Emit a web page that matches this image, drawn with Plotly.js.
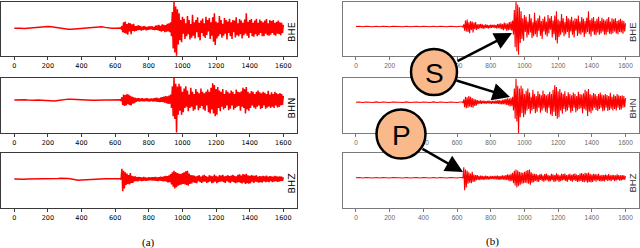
<!DOCTYPE html>
<html><head><meta charset="utf-8">
<script src="https://cdn.plot.ly/plotly-3.0.1.min.js"></script>
<style>html,body{margin:0;padding:0;background:#fff}#c{width:640px;height:248px}</style>
</head><body><div id="c"></div>
<script>
// sampling: pre-event part every 20 s from 0, post-event part every 5 s from 630
const PRE_START = 0, PRE_STEP = 20, POST_START = 630, POST_STEP = 5;

// raw (unfiltered) pre-event drift, panel (a)
const bhePreRaw = [0,0.01,0.0,-0.01,0.0,0.01,0.02,0.03,0.05,0.06,0.06,0.05,0.03,0.01,-0.01,-0.03,-0.04,-0.04,-0.03,-0.02,-0.01,0.0,0.02,0.04,0.05,0.06,0.05,0.03,0.01,0.0,0.0,0.01];
const bhnPreRaw = [0,0.01,0.02,0.01,0.0,-0.01,-0.01,0.0,-0.01,-0.02,-0.04,-0.05,-0.04,-0.02,0.0,0.02,0.03,0.03,0.02,0.02,0.01,0.0,0.0,-0.01,-0.01,0.0,-0.01,0.0,0.0,0.01,0.0,0.01];
const bhzPreRaw = [0,-0.01,-0.01,-0.01,0,0,0,0.01,0.01,0.01,0.01,0.02,0.02,0.02,0.03,0.03,0.02,0.0,-0.03,-0.05,-0.04,-0.03,-0.02,-0.01,0,0,0.01,0.01,0.01,0.01,0.0,0.0];
// filtered pre-event noise, panel (b)
const quietPre = [0,0.01,-0.01,0.01,0,-0.01,0.01,-0.01,0.01,0,-0.01,0.01,0,0.01,-0.01,0.01,-0.01,0,0.01,-0.01,0.01,0,-0.01,0.01,-0.01,0.01,0,-0.01,0.01,0,-0.01,0.01];

const bhePost = [
0.01,-0.02,0.08,-0.15,0.22,-0.18,0.25,-0.2,0.15,-0.24,
0.2,-0.12,0.18,-0.22,0.14,-0.1,0.16,-0.12,0.08,-0.1,
0.09,-0.07,0.1,-0.06,0.08,-0.09,0.06,-0.07,0.08,-0.05,
0.06,-0.08,0.05,-0.06,0.07,-0.05,0.06,-0.04,0.07,-0.06,
0.05,-0.07,0.09,-0.06,0.1,-0.08,0.12,-0.1,0.09,-0.13,
0.14,-0.1,0.12,-0.15,0.11,-0.13,0.16,-0.12,0.18,-0.15,
0.22,-0.3,0.6,-0.75,1.0,-0.9,0.8,-1.02,0.7,-0.6,
0.55,-0.45,0.3,-0.52,0.42,-0.2,0.35,-0.4,0.18,-0.3,
0.45,-0.22,0.3,-0.42,0.15,-0.35,0.5,-0.28,0.22,-0.38,
0.3,-0.15,0.4,-0.33,0.2,-0.45,0.28,-0.18,0.36,-0.3,
0.18,-0.36,0.42,-0.25,0.3,-0.12,0.38,-0.4,0.22,-0.28,
0.4,-0.5,0.55,-0.62,0.25,-0.38,0.2,-0.3,0.45,-0.22,
0.3,-0.35,0.16,-0.28,0.38,-0.2,0.3,-0.42,0.25,-0.18,
0.35,-0.3,0.22,-0.4,0.3,-0.15,0.28,-0.34,0.4,-0.26,
0.18,-0.3,0.34,-0.22,0.28,-0.38,0.2,-0.26,0.32,-0.2,
0.55,-0.28,0.24,-0.36,0.3,-0.18,0.34,-0.3,0.2,-0.32,
0.28,-0.22,0.35,-0.3,0.2,-0.25,0.32,-0.18,0.26,-0.3,
0.22,-0.3,0.28,-0.2,0.34,-0.26,0.18,-0.28,0.3,-0.24,
0.26,-0.18,0.3,-0.25,0.2,-0.28,0.24,-0.2,0.28,-0.22,
0.22,-0.26,0.2,-0.18,0.12];

const bhnPost = [
0.01,-0.03,0.1,-0.18,0.2,-0.22,0.18,-0.2,0.22,-0.16,
0.2,-0.18,0.15,-0.2,0.12,-0.14,0.1,-0.12,0.08,-0.07,
0.06,-0.05,0.07,-0.06,0.05,-0.04,0.06,-0.05,0.04,-0.05,
0.05,-0.04,0.06,-0.05,0.04,-0.06,0.05,-0.04,0.05,-0.06,
0.06,-0.05,0.07,-0.06,0.08,-0.07,0.06,-0.08,0.09,-0.07,
0.1,-0.08,0.12,-0.1,0.14,-0.12,0.13,-0.15,0.16,-0.14,
0.2,-0.3,0.5,-0.6,0.85,-0.7,0.6,-1.2,0.5,-0.55,
0.6,-0.4,0.5,-0.55,0.3,-0.45,0.42,-0.3,0.5,-0.25,
0.35,-0.42,0.2,-0.3,0.45,-0.25,0.3,-0.4,0.22,-0.35,
0.4,-0.2,0.3,-0.38,0.25,-0.3,0.42,-0.22,0.3,-0.35,
0.25,-0.4,0.3,-0.2,0.38,-0.45,0.3,-0.5,0.45,-0.35,
0.62,-0.5,0.55,-0.6,0.4,-0.55,0.48,-0.3,0.35,-0.42,
0.3,-0.25,0.4,-0.35,0.22,-0.3,0.36,-0.2,0.3,-0.38,
0.25,-0.32,0.35,-0.2,0.3,-0.36,0.22,-0.3,0.38,-0.25,
0.3,-0.22,0.28,-0.4,0.32,-0.25,0.45,-0.3,0.4,-0.5,
0.48,-0.35,0.3,-0.4,0.25,-0.3,0.33,-0.2,0.3,-0.28,
0.22,-0.32,0.3,-0.25,0.35,-0.2,0.28,-0.33,0.25,-0.3,
0.3,-0.2,0.26,-0.32,0.22,-0.28,0.34,-0.24,0.2,-0.3,
0.28,-0.25,0.22,-0.3,0.3,-0.2,0.25,-0.28,0.22,-0.26,
0.25,-0.2,0.22,-0.18,0.15];

const bhzPost = [
0.01,-0.02,0.38,-0.45,0.3,-0.35,0.25,-0.22,0.2,-0.18,
0.15,-0.2,0.22,-0.15,0.12,-0.14,0.1,-0.09,0.1,-0.08,
0.07,-0.09,0.08,-0.06,0.07,-0.08,0.06,-0.07,0.08,-0.06,
0.06,-0.07,0.05,-0.06,0.07,-0.05,0.06,-0.05,0.07,-0.06,
0.07,-0.06,0.08,-0.07,0.06,-0.08,0.07,-0.06,0.09,-0.07,
0.08,-0.09,0.1,-0.08,0.12,-0.1,0.11,-0.13,0.14,-0.12,
0.18,-0.2,0.25,-0.28,0.3,-0.35,0.26,-0.3,0.22,-0.25,
0.2,-0.22,0.18,-0.2,0.22,-0.18,0.25,-0.2,0.28,-0.22,
0.3,-0.25,0.2,-0.18,0.15,-0.16,0.14,-0.12,0.13,-0.14,
0.1,-0.15,0.12,-0.08,0.14,-0.12,0.09,-0.14,0.13,-0.1,
0.15,-0.1,0.11,-0.14,0.08,-0.12,0.14,-0.09,0.12,-0.15,
0.1,-0.13,0.16,-0.1,0.12,-0.15,0.09,-0.12,0.14,-0.1,
0.13,-0.09,0.15,-0.12,0.1,-0.14,0.12,-0.08,0.14,-0.12,
0.11,-0.14,0.13,-0.1,0.15,-0.12,0.12,-0.15,0.1,-0.13,
0.15,-0.12,0.17,-0.14,0.13,-0.16,0.18,-0.13,0.16,-0.18,
0.19,-0.15,0.14,-0.17,0.12,-0.15,0.14,-0.1,0.13,-0.14,
0.12,-0.1,0.14,-0.12,0.09,-0.13,0.11,-0.12,0.1,-0.13,
0.12,-0.09,0.1,-0.12,0.13,-0.1,0.09,-0.12,0.11,-0.08,
0.1,-0.12,0.09,-0.1,0.12,-0.08,0.1,-0.11,0.09,-0.1,
0.1,-0.08,0.09,-0.07,0.06];

const channels = ['BHE','BHN','BHZ'];
const tickVals = [0,200,400,600,800,1000,1200,1400,1600];
const tickText = ['0','200','400','600','800','1000','1200','1400','1600'];
const captions = ['(a)','(b)'];

function times(n, start, step){ const t=[]; for(let i=0;i<n;i++) t.push(start+i*step); return t; }
function series(pre, post){
  return { x: times(pre.length, PRE_START, PRE_STEP).concat(times(post.length, POST_START, POST_STEP)),
           y: pre.concat(post) };
}

const leftData = [series(bhePreRaw,bhePost), series(bhnPreRaw,bhnPost), series(bhzPreRaw,bhzPost)];
const rightData = [series(quietPre,bhePost), series(quietPre,bhnPost), series(quietPre,bhzPost)];

const W=640,H=248;
const px = v=>v/W, py = v=>1-v/H;
const colDom = [[px(0.85),px(296.75)],[px(342.5),px(639)]];
const rowPix = [[2,56],[78,133],[153,208]];
const yRangesL = [[-1.03,0.97],[-1.22,0.81],[-1.07,0.96]];
const yRangesR = [[-1.07,0.89],[-1.12,0.88],[-1.1,0.9]];

const traces=[]; const layout={width:W,height:H,margin:{l:0,r:0,t:0,b:0},showlegend:false,
  paper_bgcolor:'#fff',plot_bgcolor:'#fff',annotations:[],shapes:[]};
let k=0;
for(let c=0;c<2;c++){
  for(let r=0;r<3;r++){
    k++;
    const xa='xaxis'+(k===1?'':k), ya='yaxis'+(k===1?'':k);
    const d = c===0?leftData[r]:rightData[r];
    traces.push({x:d.x,y:d.y,type:'scatter',mode:'lines',line:{color:'#ff0000',width:c===0?1.5:1.1},
      xaxis:'x'+(k===1?'':k), yaxis:'y'+(k===1?'':k), hoverinfo:'skip'});
    const frame = c===0?'#3a3a3a':'#7a7a7a';
    layout[xa]={domain:colDom[c],range:[-80,1680],anchor:'y'+(k===1?'':k),showgrid:false,zeroline:false,
      showline:true,mirror:true,linecolor:frame,linewidth:1,ticks:'outside',ticklen:3,tickwidth:1,tickcolor:frame,
      tickvals:tickVals,ticktext:tickText,
      tickfont:c===0?{family:'DejaVu Sans',size:6.5,color:'#000'}:{family:'Liberation Sans',size:6.5,color:'#666'}};
    layout[ya]={domain:[py(rowPix[r][1]),py(rowPix[r][0])],range:c===0?yRangesL[r]:yRangesR[r],
      anchor:'x'+(k===1?'':k),showgrid:false,zeroline:false,showticklabels:false,ticks:'',
      showline:true,mirror:true,linecolor:frame,linewidth:1};
    layout.annotations.push({text:channels[r],xref:'paper',yref:'paper',
      x:px(c===0?291:632),y:py((rowPix[r][0]+rowPix[r][1])/2+3),textangle:-90,showarrow:false,
      xanchor:'center',yanchor:'middle',
      font:c===0?{family:'DejaVu Sans',size:9.5,color:'#000'}:{family:'Liberation Sans',size:9.5,color:'#333'}});
  }
}
// captions
layout.annotations.push({text:captions[0],xref:'paper',yref:'paper',x:px(148),y:py(242),showarrow:false,
  xanchor:'center',yanchor:'middle',font:{family:'Liberation Serif',size:11,color:'#000'}});
layout.annotations.push({text:captions[1],xref:'paper',yref:'paper',x:px(492),y:py(241),showarrow:false,
  xanchor:'center',yanchor:'middle',font:{family:'Liberation Serif',size:11,color:'#000'}});

// phase markers (circles + arrows)
const markers = [{label:'S',cx:434,cy:72,r:23},{label:'P',cx:401,cy:134,r:24.5}];
markers.forEach(m=>{
  layout.shapes.push({type:'circle',xref:'paper',yref:'paper',layer:'above',
    x0:px(m.cx-m.r),x1:px(m.cx+m.r),y0:py(m.cy+m.r),y1:py(m.cy-m.r),
    fillcolor:'#f9b98b',line:{color:'#000',width:2.5}});
  layout.annotations.push({text:m.label,xref:'paper',yref:'paper',x:px(m.cx),y:py(m.cy+1),showarrow:false,
    xanchor:'center',yanchor:'middle',font:{family:'Liberation Sans',size:28,color:'#000'}});
});
const arrows=[{tip:[512,33],tail:[456,62]},{tip:[510,97],tail:[455,80]},{tip:[463,172],tail:[421,148]}];
arrows.forEach(a=>{
  layout.annotations.push({text:'',xref:'paper',yref:'paper',x:px(a.tip[0]),y:py(a.tip[1]),
    ax:a.tail[0]-a.tip[0],ay:a.tail[1]-a.tip[1],showarrow:true,arrowhead:2,arrowsize:1.4,arrowwidth:2.5,
    arrowcolor:'#000',standoff:0,startstandoff:0});
});

Plotly.newPlot('c',traces,layout,{staticPlot:true,displayModeBar:false});
</script></body></html>
